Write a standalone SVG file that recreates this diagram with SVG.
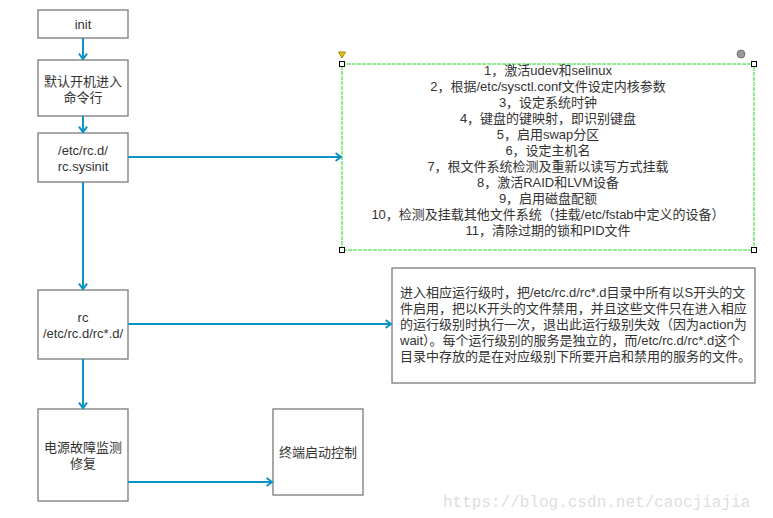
<svg xmlns="http://www.w3.org/2000/svg" width="773" height="518" viewBox="0 0 773 518">
<defs>
<marker id="ah" viewBox="0 0 10 10" refX="8" refY="5" markerWidth="9" markerHeight="9" markerUnits="userSpaceOnUse" orient="auto" overflow="visible">
<path d="M2,0.5 L8,5 L2,9.5" fill="none" stroke="#0a94c6" stroke-width="2.2"/>
</marker>
<style>
.box{fill:#fff;stroke:#7a7a7a;stroke-width:1.3}
.t{font-family:"Liberation Sans","Noto Sans CJK SC",sans-serif;font-size:13px;fill:#333}
.c{text-anchor:middle}
.conn path{fill:none;stroke:#0a94c6;stroke-width:2;marker-end:url(#ah)}
.h{fill:#fff;stroke:#000;stroke-width:1}
</style>
</defs>
<rect width="773" height="518" fill="#fff"/>
<g id="n-init"><rect class="box" x="38" y="10" width="90" height="28"/><text class="t c" x="83" y="29">init</text></g>
<g id="n-cmd"><rect class="box" x="38" y="60" width="90" height="56"/><text class="t c" x="83" y="86">默认开机进入</text><text class="t c" x="83" y="102">命令行</text></g>
<g id="n-sysinit"><rect class="box" x="38" y="133" width="90" height="49"/><text class="t c" x="83" y="155">/etc/rc.d/</text><text class="t c" x="83" y="171">rc.sysinit</text></g>
<g id="n-rc"><rect class="box" x="38" y="290" width="90" height="69"/><text class="t c" x="83" y="322">rc</text><text class="t c" x="83" y="338">/etc/rc.d/rc*.d/</text></g>
<g id="n-power"><rect class="box" x="38" y="409" width="90" height="92"/><text class="t c" x="83" y="452">电源故障监测</text><text class="t c" x="83" y="468">修复</text></g>
<g id="n-term"><rect class="box" x="273" y="409" width="90" height="86"/><text class="t c" x="318" y="457">终端启动控制</text></g>
<g id="n-list">
<rect x="342" y="64" width="412" height="186" fill="#fff" stroke="#22dd22" stroke-width="1" stroke-dasharray="4,1"/>
<g class="t c">
<text x="548" y="75">1，激活udev和selinux</text>
<text x="548" y="91">2，根据/etc/sysctl.conf文件设定内核参数</text>
<text x="548" y="107">3，设定系统时钟</text>
<text x="548" y="123">4，键盘的键映射，即识别键盘</text>
<text x="548" y="139">5，启用swap分区</text>
<text x="548" y="155">6，设定主机名</text>
<text x="548" y="171">7，根文件系统检测及重新以读写方式挂载</text>
<text x="548" y="187">8，激活RAID和LVM设备</text>
<text x="548" y="203">9，启用磁盘配额</text>
<text x="548" y="219">10，检测及挂载其他文件系统（挂载/etc/fstab中定义的设备）</text>
<text x="548" y="235">11，清除过期的锁和PID文件</text>
</g>
<rect class="h" x="339.5" y="61.5" width="5" height="5"/>
<rect class="h" x="751.5" y="61.5" width="5" height="5"/>
<rect class="h" x="339.5" y="247.5" width="5" height="5"/>
<rect class="h" x="751.5" y="247.5" width="5" height="5"/>
<path d="M338.5,52 L345.5,52 L342,58 Z" fill="#e8c800" stroke="#8a7000" stroke-width="0.8"/>
<circle cx="741" cy="54" r="4" fill="#999" stroke="#666" stroke-width="0.8"/>
</g>
<g id="n-desc">
<rect class="box" x="392" y="268" width="363" height="115"/>
<g class="t">
<text x="400" y="297">进入相应运行级时，把/etc/rc.d/rc*.d目录中所有以S开头的文</text>
<text x="400" y="313">件启用，把以K开头的文件禁用，并且这些文件只在进入相应</text>
<text x="400" y="329">的运行级别时执行一次，退出此运行级别失效（因为action为</text>
<text x="400" y="345">wait）。每个运行级别的服务是独立的，而/etc/rc.d/rc*.d这个</text>
<text x="400" y="361">目录中存放的是在对应级别下所要开启和禁用的服务的文件。</text>
</g>
</g>
<g id="connectors" class="conn">
<path d="M83,38 V59"/>
<path d="M83,116 V132"/>
<path d="M83,182 V289"/>
<path d="M83,359 V408"/>
<path d="M128,157 H341"/>
<path d="M128,324 H391"/>
<path d="M128,482 H272"/>
</g>
<text x="443" y="507" font-family="'Liberation Mono','DejaVu Sans Mono',monospace" font-size="16" fill="#dedede">https://blog.csdn.net/caocjiajia</text>
</svg>
